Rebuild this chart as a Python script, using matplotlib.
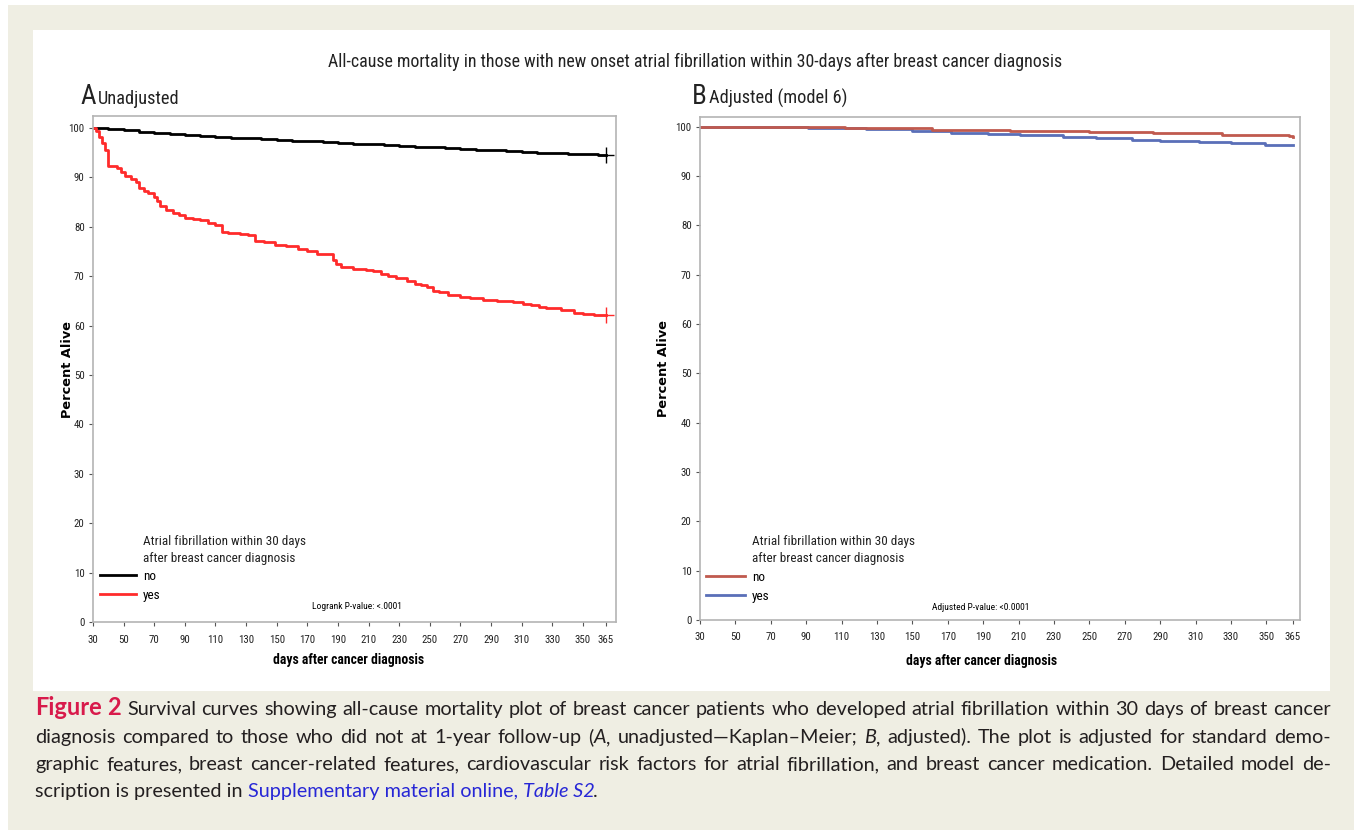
import matplotlib
matplotlib.use('Agg')
import matplotlib.pyplot as plt
from matplotlib import font_manager
from matplotlib.patches import Rectangle

W, H = 1354, 830

# ---- data ----
x_ticks = [30, 50, 70, 90, 110, 130, 150, 170, 190, 210, 230, 250, 270, 290,
           310, 330, 350, 365]
y_ticks = [0, 10, 20, 30, 40, 50, 60, 70, 80, 90, 100]

# panel A, Kaplan-Meier, no AF
a_days_no = [30, 40, 50, 60, 70, 80, 90, 100, 110, 120,
             130, 140, 150, 160, 170, 180, 190, 200, 210, 220,
             230, 240, 250, 260, 270, 280, 290, 300, 310, 320,
             330, 340, 350, 360, 365]
a_surv_no = [100.0, 99.75, 99.5, 99.25, 99.0, 98.8, 98.6, 98.4, 98.2, 98.0,
             97.85, 97.7, 97.55, 97.4, 97.25, 97.1, 96.95, 96.8, 96.65, 96.5,
             96.35, 96.2, 96.05, 95.9, 95.75, 95.6, 95.45, 95.3, 95.15, 95.0,
             94.9, 94.8, 94.65, 94.5, 94.5]

# panel A, Kaplan-Meier, AF within 30 days
a_days_yes = [30, 32, 34, 36, 38, 40, 46, 48, 51, 55,
              58, 60, 63, 66, 70, 72, 74, 78, 82, 86,
              90, 95, 100, 105, 110, 114, 118, 126, 131, 136,
              142, 149, 156, 164, 170, 176, 187, 189, 192, 200,
              208, 213, 218, 223, 228, 235, 240, 244, 248, 252,
              256, 262, 270, 276, 285, 294, 304, 311, 316, 321,
              326, 336, 344, 350, 357, 365]
a_surv_yes = [100.0, 99.3, 98.2, 97.0, 95.5, 92.3, 91.8, 91.0, 90.2, 89.6,
              89.1, 87.8, 87.3, 86.8, 86.1, 85.2, 84.2, 83.4, 82.7, 82.3,
              81.8, 81.6, 81.4, 80.8, 80.3, 79.0, 78.7, 78.5, 78.3, 77.1,
              76.9, 76.3, 76.0, 75.4, 75.1, 74.5, 73.3, 72.4, 71.9, 71.5,
              71.2, 71.0, 70.5, 70.1, 69.7, 69.1, 68.5, 68.1, 67.7, 67.0,
              66.7, 66.1, 65.8, 65.5, 65.2, 65.0, 64.8, 64.4, 64.1, 63.8,
              63.5, 63.2, 62.6, 62.4, 62.1, 62.1]

# panel B, adjusted (model 6)
b_days_no = [30, 112, 161, 205, 250, 286, 325, 363, 365]
b_surv_no = [100.0, 99.7, 99.4, 99.2, 98.9, 98.7, 98.4, 98.2, 98.0]
b_days_yes = [30, 91, 124, 150, 172, 193, 211, 235, 254, 274,
              290, 312, 330, 349, 365]
b_surv_yes = [100.0, 99.8, 99.5, 99.2, 98.8, 98.5, 98.3, 98.0, 97.7, 97.4,
              97.1, 96.9, 96.7, 96.4, 96.4]

legend_title = 'Atrial fibrillation within 30 days\nafter breast cancer diagnosis'
labels = ['no', 'yes']

# ---- fonts: the original uses a narrow sans; take one if it is installed ----
names = {f.name for f in font_manager.fontManager.ttflist}
narrow = None
for cand in ['Liberation Sans Narrow', 'Roboto Condensed', 'Noto Sans Condensed',
             'Open Sans Condensed']:
    if cand in names:
        narrow = cand
        break
k = 1.0
if narrow is None:
    narrow = 'Liberation Sans'
    k = 0.85
capfont = 'Lato'


def fs(x):
    return x * k


fig = plt.figure(figsize=(W / 100, H / 100), dpi=100, facecolor='white')
renderer = fig.canvas.get_renderer()


# pixel box measured from the top-left corner -> figure fractions
def box(x0, y0, x1, y1):
    return (x0 / W, 1 - y1 / H, (x1 - x0) / W, (y1 - y0) / H)


bx = box(8, 5, W, H)
fig.add_artist(Rectangle(bx[:2], bx[2], bx[3], transform=fig.transFigure,
                         facecolor='#EFEEE3', edgecolor='none', zorder=-10))
bx = box(33, 30, 1330, 691)
fig.add_artist(Rectangle(bx[:2], bx[2], bx[3], transform=fig.transFigure,
                         facecolor='white', edgecolor='none', zorder=-9))

fig.text(695 / W, 1 - 62 / H,
         'All-cause mortality in those with new onset atrial fibrillation within 30-days after breast cancer diagnosis',
         ha='center', va='center', fontsize=fs(12.9), family=narrow, color='#222222')

axA = fig.add_axes(box(93, 116, 616, 622))
axB = fig.add_axes(box(700, 117, 1300, 620))


def style(ax, xmax, ymax, xlab_pos, ylab_x):
    ax.set_xlim(30, xmax)
    ax.set_ylim(0, ymax)
    ax.set_xticks(x_ticks)
    ax.set_yticks(y_ticks)
    for s in ax.spines.values():
        s.set_color('#B4B4B4')
        s.set_linewidth(1.2)
    ax.tick_params(length=3, width=0.8, color='#555555', labelsize=fs(7.8),
                   labelcolor='#222222')
    ax.tick_params(axis='x', pad=6)
    ax.tick_params(axis='y', pad=3)
    for t in ax.get_xticklabels() + ax.get_yticklabels():
        t.set_family(narrow)
    ax.set_xlabel('days after cancer diagnosis', fontsize=fs(9.8), fontweight='bold',
                  family=narrow)
    ax.set_ylabel('Percent Alive', fontsize=9.3, fontweight='bold', family='DejaVu Sans')
    ax.xaxis.set_label_coords(*xlab_pos)
    ax.yaxis.set_label_coords(ylab_x, 0.5)


LEG = fs(9.5)
leg_px = LEG * 100 / 72

# panel A
l1, = axA.step(a_days_no, a_surv_no, where='post', color='black', lw=2)
l2, = axA.step(a_days_yes, a_surv_yes, where='post', color='#FF2B2B', lw=2)
axA.plot(a_days_no[-1], a_surv_no[-1], marker='+', ms=12, mew=1, color='black')
axA.plot(a_days_yes[-1], a_surv_yes[-1], marker='+', ms=12, mew=1, color='#FF2B2B')
style(axA, 371.6, 102.4, (0.488, -0.062), -0.036)
axA.legend([l1, l2], labels, loc='lower left', bbox_to_anchor=(0.0134, 0.04),
           frameon=False, prop={'family': narrow, 'size': LEG}, handlelength=36 / leg_px,
           handletextpad=7 / leg_px, labelspacing=0.44, borderpad=0, borderaxespad=0)
axA.text(0.0956, 0.142, legend_title, transform=axA.transAxes, va='center',
         ha='left', fontsize=LEG, family=narrow, linespacing=1.45, color='#222222')
axA.text(0.505, 0.03, 'Logrank P-value: <.0001', transform=axA.transAxes,
         ha='center', va='center', fontsize=fs(6.8), family=narrow)

# panel B
m1, = axB.step(b_days_yes, b_surv_yes, where='post', color='#5A6FB8', lw=2)
m2, = axB.step(b_days_no, b_surv_no, where='post', color='#C05A4E', lw=2)
style(axB, 369, 102.0, (0.47, -0.068), -0.05)
axB.legend([m2, m1], labels, loc='lower left', bbox_to_anchor=(0.01, 0.034),
           frameon=False, prop={'family': narrow, 'size': LEG}, handlelength=39 / leg_px,
           handletextpad=7 / leg_px, labelspacing=0.44, borderpad=0, borderaxespad=0)
axB.text(0.0867, 0.139, legend_title, transform=axB.transAxes, va='center',
         ha='left', fontsize=LEG, family=narrow, linespacing=1.45, color='#222222')
axB.text(0.467, 0.024, 'Adjusted P-value: <0.0001', transform=axB.transAxes,
         ha='center', va='center', fontsize=fs(6.8), family=narrow)

# panel headings
for x, big, small in [(80, 'A', 'Unadjusted'), (692, 'B', 'Adjusted (model 6)')]:
    t = fig.text(x / W, 1 - 104 / H, big, fontsize=fs(19.5), family=narrow,
                 va='baseline', ha='left', color='#222222')
    wd = t.get_window_extent(renderer).width
    fig.text((x + wd + 2) / W, 1 - 104 / H, small, fontsize=fs(13.2), family=narrow,
             va='baseline', ha='left', color='#222222')

# ---- caption, justified like the journal layout ----
RED = '#D81A4B'
BLUE = '#2727D6'
INK = '#231F20'
plain = dict(color=INK, fontsize=14.3, family=capfont)
ital = dict(plain, style='italic')
fig_lbl = dict(color=RED, fontsize=17, family=capfont, fontweight='bold')
link = dict(plain, color=BLUE)
link_i = dict(link, style='italic')

cap_lines = [
    [('Figure 2', fig_lbl), (' Survival curves showing all-cause mortality plot of breast cancer patients who developed atrial fibrillation within 30 days of breast cancer', plain)],
    [('diagnosis compared to those who did not at 1-year follow-up (', plain), ('A', ital), (', unadjusted\u2014Kaplan\u2013Meier; ', plain), ('B', ital), (', adjusted). The plot is adjusted for standard demo-', plain)],
    [('graphic features, breast cancer-related features, cardiovascular risk factors for atrial fibrillation, and breast cancer medication. Detailed model de-', plain)],
    [('scription is presented in ', plain), ('Supplementary material online, ', link), ('Table S2', link_i), ('.', plain)],
]
cap_base = [715, 743, 770, 797]
cap_justify = [True, True, True, False]


def caption_line(segs, y, x0, x1, justify):
    if not justify:
        # last line: run the styled pieces one after the other
        x = x0
        for text, kw in segs:
            t = fig.text(x / W, 1 - y / H, text, va='baseline', ha='left', **kw)
            x += t.get_window_extent(renderer).width
            if kw.get('style') == 'italic':
                x -= 2
        return
    words = [[]]
    for text, kw in segs:
        parts = text.split(' ')
        for i, p in enumerate(parts):
            if i > 0:
                words.append([])
            if p:
                words[-1].append((p, kw))
    words = [w for w in words if w]
    arts = []
    widths = []
    for w in words:
        row = []
        tot = 0
        for p, kw in w:
            t = fig.text(0, 1 - y / H, p, va='baseline', ha='left', **kw)
            wd = t.get_window_extent(renderer).width
            row.append((t, wd))
            tot += wd
        arts.append(row)
        widths.append(tot)
    space = max(2.0, (x1 - x0 - sum(widths)) / (len(words) - 1))
    x = x0
    for row in arts:
        for t, wd in row:
            t.set_x(x / W)
            x += wd
        x += space


for segs, y, j in zip(cap_lines, cap_base, cap_justify):
    caption_line(segs, y, 35, 1331, j)

fig.savefig('out.png', dpi=100, facecolor='white')
